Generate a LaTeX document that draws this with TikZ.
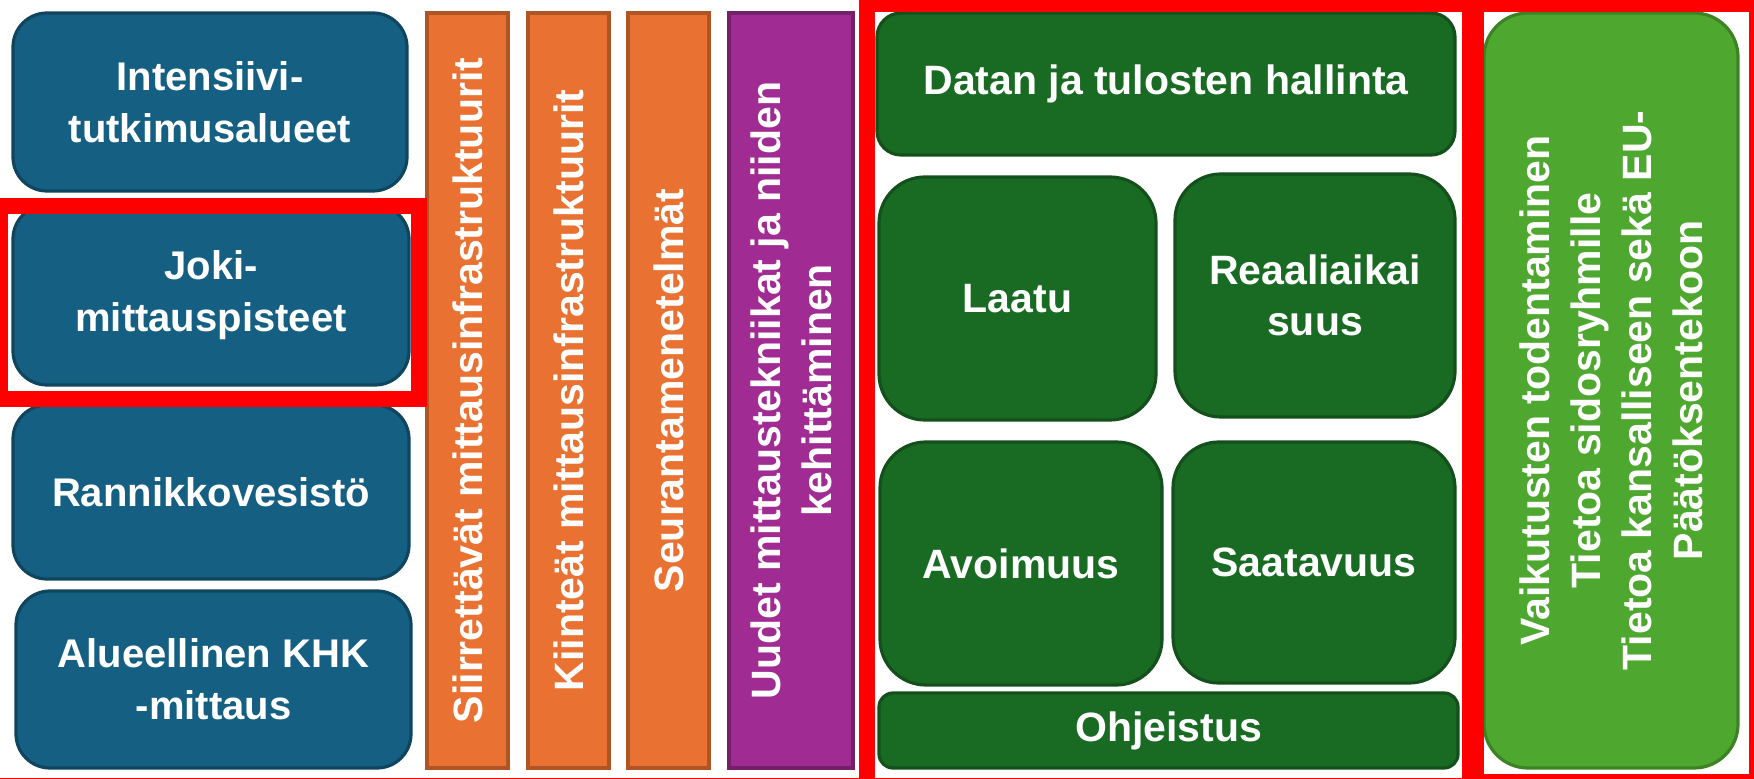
\documentclass[tikz,border=0pt]{standalone}
\usepackage{fontspec}
\setmainfont{Liberation Sans}

\definecolor{areablue}{HTML}{156082}
\definecolor{infraorange}{HTML}{E97132}
\definecolor{methodpurple}{HTML}{A02B93}
\definecolor{datagreen}{HTML}{196B24}
\definecolor{impactgreen}{HTML}{4EA72E}
\definecolor{framered}{HTML}{FF0000}

\tikzset{
  wh/.style 2 args={minimum width=#1*0.5pt,minimum height=#2*0.5pt},
  tile/.style={inner sep=0pt,outer sep=0pt,line width=1.6pt,text=white,align=center,
    font=\bfseries\fontsize{20.5pt}{25.5pt}\selectfont},
  area/.style={tile,draw=areablue!72!black,fill=areablue,rounded corners=17pt,
    font=\bfseries\fontsize{20pt}{26pt}\selectfont},
  infra/.style={tile,draw=infraorange!75!black,fill=infraorange,rotate=90},
  method/.style={tile,draw=methodpurple!72!black,fill=methodpurple,rotate=90},
  data/.style={tile,draw=datagreen!75!black,fill=datagreen},
  impact/.style={tile,draw=impactgreen!78!black,fill=impactgreen,rotate=90,rounded corners=22pt},
  highlight/.style={draw=framered,line width=8pt}
}

\begin{document}
\begin{tikzpicture}[x=0.5pt,y=-0.5pt]
\useasboundingbox[fill=white] (0,0) rectangle (1754,779);

% measuring areas
\node[area,wh={394}{178}] (intens) at (210,102) {Intensiivi-\\tutkimusalueet};
\node[area,wh={396}{180}] (joki) at (211,295) {Joki-\\mittauspisteet};
\node[area,wh={396}{174}] (rannikko) at (211,492) {Rannikkovesistö};
\node[area,wh={395}{177}] (khk) at (213.5,679.5) {Alueellinen KHK\\-mittaus};

% infrastructure and methods
\node[infra,wh={755}{81}] (siirr) at (467.5,390.5) {Siirrettävät mittausinfrastruktuurit};
\node[infra,wh={755}{81}] (kiint) at (568.5,390.5) {Kiinteät mittausinfrastruktuurit};
\node[infra,wh={755}{81}] (seur) at (668.5,390.5) {Seurantamenetelmät};
\node[method,wh={755}{124}] (uudet) at (791,390.5) {Uudet mittaustekniikat ja niiden\\kehittäminen};

% data and results
\node[data,wh={578}{142},rounded corners=12pt] (datan) at (1166,84) {Datan ja tulosten hallinta};
\node[data,wh={277}{243},rounded corners=23pt] (laatu) at (1017.5,298.5) {Laatu};
\node[data,wh={280}{243},rounded corners=23pt] (reaali) at (1315,295.5) {Reaaliaikai\\suus};
\node[data,wh={282}{243},rounded corners=23pt] (avoim) at (1021,563.5) {Avoimuus};
\node[data,wh={282}{241},rounded corners=23pt] (saatav) at (1314,562.5) {Saatavuus};
\node[data,wh={579}{75},rounded corners=7pt] (ohjeis) at (1168.5,730.5) {Ohjeistus};

% impact
\node[impact,wh={755}{254}] (vaikut) at (1611,390.5)
  {Vaikutusten todentaminen\\Tietoa sidosryhmille\\Tietoa kansalliseen sekä EU-\\Päätöksentekoon};

% red frames
\draw[highlight] (0,206) rectangle (419,399.5);
\draw[highlight] (867,4) rectangle (1470,786);
\draw[highlight] (1476,4) rectangle (1757,782);
\draw[framered,line width=0.75pt] (0,778.3) -- (1754,778.3);
\end{tikzpicture}
\end{document}
